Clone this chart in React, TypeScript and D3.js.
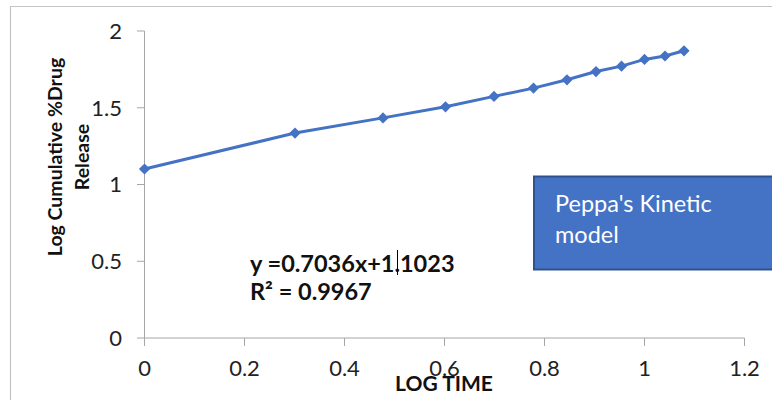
import React from 'react';
import * as d3 from 'd3';

// log time vs log cumulative % drug release
const logTime = [0, 0.301, 0.477, 0.602, 0.699, 0.778, 0.845, 0.903, 0.954, 1.0, 1.041, 1.079];
const logRelease = [1.101, 1.335, 1.434, 1.506, 1.574, 1.628, 1.682, 1.736, 1.771, 1.815, 1.837, 1.871];
const xTicks = [0, 0.2, 0.4, 0.6, 0.8, 1, 1.2];
const yTicks = [0, 0.5, 1, 1.5, 2];

const FONT = 'Lato, "Open Sans", sans-serif';

export default function App() {
    const width = 772;
    const height = 400;

    const x = d3.scaleLinear().domain([0, 1.2]).range([144.5, 744.5]);
    const y = d3.scaleLinear().domain([0, 2]).range([338, 31]);

    const points = logTime.map((t, i) => [t, logRelease[i]] as [number, number]);
    const line = d3.line<[number, number]>()
        .x(d => x(d[0]))
        .y(d => y(d[1]));
    const diamond = d3.symbol().type(d3.symbolDiamond2).size(80)();

    return (
        <svg width={width} height={height} style={{ position: 'absolute', left: 0, top: 0 }}>
            <rect width={width} height={height} fill="#fff" />
            {/* chart area border */}
            <path d="M10.5,410 V6.5 H780" fill="none" stroke="#c4c4c4" strokeWidth={1.2} />

            {/* y axis */}
            <line x1={x(0)} x2={x(0)} y1={y(2)} y2={y(0)} stroke="#a6a6a6" />
            {yTicks.map(t => (
                <g key={t} transform={`translate(0,${y(t)})`}>
                    <line x1={137} x2={x(0)} stroke="#a6a6a6" />
                    <text x={122} dy="0.36em" textAnchor="end" fontFamily={FONT} fontSize={22} fill="#222">
                        {t}
                    </text>
                </g>
            ))}

            {/* x axis */}
            <line x1={x(0)} x2={x(1.2)} y1={y(0)} y2={y(0)} stroke="#a6a6a6" />
            {xTicks.map(t => (
                <g key={t} transform={`translate(${x(t)},0)`}>
                    <line y1={y(0)} y2={y(0) + 8} stroke="#a6a6a6" />
                    <text y={376} textAnchor="middle" fontFamily={FONT} fontSize={22} fill="#222">
                        {t}
                    </text>
                </g>
            ))}

            {/* axis titles */}
            <g transform="translate(62,157) rotate(-90)" fontFamily={FONT} fontSize={19.5} fontWeight="bold" fill="#111" textAnchor="middle">
                <text x={0} y={0}>Log Cumulative %Drug</text>
                <text x={0} y={27}>Release</text>
            </g>
            <text x={444} y={391} textAnchor="middle" fontFamily={FONT} fontSize={21} fontWeight="bold" fill="#111">
                LOG TIME
            </text>

            {/* series */}
            <path d={line(points) || ''} fill="none" stroke="#4472C4" strokeWidth={3} />
            {points.map((p, i) => (
                <path key={i} d={diamond || ''} transform={`translate(${x(p[0])},${y(p[1])})`} fill="#4472C4" />
            ))}

            {/* trendline equation */}
            <g fontFamily={FONT} fontSize={23.5} fontWeight="bold" fill="#111">
                <text x={250} y={271.5}>y =0.7036x+1.1023</text>
                <text x={250} y={300}>R² = 0.9967</text>
            </g>
            <line x1={397.5} x2={397.5} y1={250} y2={275} stroke="#000" strokeWidth={1} />

            {/* text box */}
            <rect x={534} y={176.5} width={250} height={93} fill="#4472C4" stroke="#2F528F" strokeWidth={2} />
            <g fontFamily={FONT} fontSize={23.5} fill="#fff">
                <text x={555} y={211.5}>Peppa's Kinetic</text>
                <text x={555} y={243}>model</text>
            </g>
        </svg>
    );
}
